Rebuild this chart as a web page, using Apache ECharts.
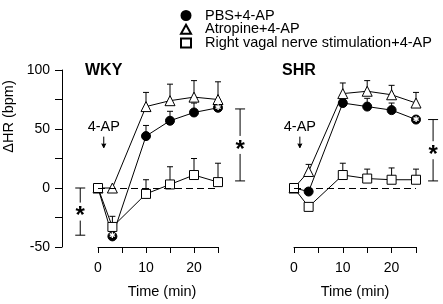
<!DOCTYPE html>
<html>
<head>
<meta charset="utf-8">
<script src="https://cdn.jsdelivr.net/npm/echarts@6/dist/echarts.min.js"></script>
<style>
  html, body { margin: 0; padding: 0; background: #fff; }
  #box { width: 443px; height: 304px; }
</style>
</head>
<body>
<div id="box"></div>
<script>
// time points (min)
const times = [0, 3, 10, 15, 20, 25];
const groupNames = ['PBS+4-AP', 'Atropine+4-AP', 'Right vagal nerve stimulation+4-AP'];
const panelNames = ['WKY', 'SHR'];

// WKY, mean and upper SEM
const wkyPbs = [0, -41, 44, 57, 64, 68];
const wkyPbsErr = [0, 0, 9, 8, 8, 0];
const wkyAtropine = [0, 0, 69, 74, 77, 75];
const wkyAtropineErr = [0, 0, 12, 14, 14, 15];
const wkyVagal = [0, -33, -5, 3, 11, 5];
const wkyVagalErr = [0, 9, 12, 15, 14, 16];

// SHR
const shrPbs = [0, -3, 72, 69, 66, 58];
const shrPbsErr = [0, 0, 0, 7, 6, 0];
const shrAtropine = [0, 14, 80, 82, 79, 72];
const shrAtropineErr = [0, 6, 9, 9, 8, 9];
const shrVagal = [0, -16, 11, 8, 7, 7];
const shrVagalErr = [0, 0, 10, 8, 10, 9];

// points marked with a white star (index into times)
const wkyStars = [1, 5];
const shrStars = [5];

// significance brackets: [x, low, high]
const wkyBrackets = [[-3.7, -40, 0], [29.6, 6, 67]];
const shrBrackets = [[28.5, 6, 58]];

// 4-AP injection marker: [time, label value]
const injection = [1.2, 52];
const injectionText = '4-AP';

const yLabels = [-50, 0, 50, 100];
const xLabels = [0, 10, 20];

const FONT = 'Liberation Sans';
const chart = echarts.init(document.getElementById('box'));

function lineSeries(idx, name, values, stars, symbol, size, fill) {
  return {
    name: name,
    type: 'line',
    xAxisIndex: idx,
    yAxisIndex: idx,
    data: values.map((v, i) => {
      const item = { value: [times[i], v] };
      if (stars.indexOf(i) >= 0) {
        item.label = {
          show: true, position: 'inside', formatter: '\u2731',
          color: '#fff', fontSize: 8, fontFamily: 'DejaVu Sans'
        };
      }
      return item;
    }),
    symbol: symbol,
    symbolSize: size,
    showSymbol: true,
    clip: false,
    lineStyle: { color: '#000', width: 1 },
    itemStyle: { color: fill, borderColor: '#000', borderWidth: 1 },
    emphasis: { disabled: true },
    z: 3
  };
}

function errSeries(idx, values, errs) {
  return {
    type: 'custom',
    xAxisIndex: idx,
    yAxisIndex: idx,
    clip: false,
    silent: true,
    z: 1,
    data: values.map((v, i) => [times[i], v, errs[i]]),
    renderItem: function (params, api) {
      const e = api.value(2);
      if (!e) return null;
      const p0 = api.coord([api.value(0), api.value(1)]);
      const p1 = api.coord([api.value(0), api.value(1) + e]);
      return {
        type: 'group',
        children: [
          { type: 'line', shape: { x1: p0[0], y1: p0[1], x2: p1[0], y2: p1[1] }, style: { stroke: '#000', lineWidth: 1 } },
          { type: 'line', shape: { x1: p1[0] - 3, y1: p1[1], x2: p1[0] + 3, y2: p1[1] }, style: { stroke: '#000', lineWidth: 1 } }
        ]
      };
    }
  };
}

function bracketSeries(idx, list) {
  return {
    type: 'custom',
    xAxisIndex: idx,
    yAxisIndex: idx,
    clip: false,
    silent: true,
    data: list,
    renderItem: function (params, api) {
      const top = api.coord([api.value(0), api.value(2)]);
      const bot = api.coord([api.value(0), api.value(1)]);
      const x = top[0], mid = (top[1] + bot[1]) / 2;
      const st = { stroke: '#000', lineWidth: 1 };
      return {
        type: 'group',
        children: [
          { type: 'line', shape: { x1: x, y1: top[1], x2: x, y2: mid - 9 }, style: st },
          { type: 'line', shape: { x1: x, y1: mid + 9, x2: x, y2: bot[1] }, style: st },
          { type: 'line', shape: { x1: x - 5, y1: top[1], x2: x + 5, y2: top[1] }, style: st },
          { type: 'line', shape: { x1: x - 5, y1: bot[1], x2: x + 5, y2: bot[1] }, style: st },
          { type: 'text', x: x, y: mid + 5, style: { text: '*', fill: '#000', font: 'bold 24px ' + FONT, align: 'center', verticalAlign: 'middle' } }
        ]
      };
    }
  };
}

function injectionSeries(idx) {
  return {
    type: 'custom',
    xAxisIndex: idx,
    yAxisIndex: idx,
    clip: false,
    silent: true,
    data: [injection],
    renderItem: function (params, api) {
      const p = api.coord([api.value(0), api.value(1)]);
      const st = { stroke: '#000', lineWidth: 1 };
      const y0 = p[1] + 10, y1 = p[1] + 21;
      return {
        type: 'group',
        children: [
          { type: 'text', x: p[0], y: p[1], style: { text: injectionText, fill: '#000', font: '14.5px ' + FONT, align: 'center', verticalAlign: 'middle' } },
          { type: 'line', shape: { x1: p[0], y1: y0, x2: p[0], y2: y1 }, style: st },
          { type: 'polyline', shape: { points: [[p[0] - 2, y1 - 4], [p[0], y1], [p[0] + 2, y1 - 4]] }, style: st }
        ]
      };
    }
  };
}

function xAxis(idx) {
  return {
    type: 'value', gridIndex: idx, min: 0, max: 25, interval: 5,
    name: 'Time (min)', nameLocation: 'middle', nameGap: 37,
    nameTextStyle: { color: '#000', fontSize: 14.5, fontFamily: FONT, padding: idx === 0 ? [0, 0, 0, 8] : 0 },
    axisLine: { onZero: false, lineStyle: { color: '#000', width: 1 } },
    axisTick: { length: 6, lineStyle: { color: '#000' } },
    splitLine: { show: false },
    axisLabel: {
      color: '#000', fontSize: 14, fontFamily: FONT, margin: 14,
      formatter: v => (xLabels.indexOf(v) >= 0 ? String(v) : '')
    }
  };
}

function yAxis(idx) {
  return {
    type: 'value', gridIndex: idx, min: -50, max: 100, interval: 25,
    show: idx === 0,
    offset: 36,
    name: '\u0394HR (bpm)', nameLocation: 'middle', nameGap: 46,
    nameTextStyle: { color: '#000', fontSize: 14.5, fontFamily: FONT, padding: [0, 0, 0, 84] },
    axisLine: { show: true, onZero: false, lineStyle: { color: '#000', width: 1 } },
    axisTick: { show: true, length: 7, lineStyle: { color: '#000' } },
    splitLine: { show: false },
    axisLabel: {
      color: '#000', fontSize: 14, fontFamily: FONT, margin: 12,
      formatter: v => (yLabels.indexOf(v) >= 0 ? String(v) : '')
    }
  };
}

const zeroLine = {
  silent: true, symbol: 'none', label: { show: false },
  lineStyle: { type: [7, 4], color: '#000', width: 1 },
  data: [{ yAxis: 0 }]
};

const wkyFirst = lineSeries(0, groupNames[2], wkyVagal, [], 'rect', 9, '#fff');
wkyFirst.markLine = zeroLine;
const shrFirst = lineSeries(1, groupNames[2], shrVagal, [], 'rect', 9, '#fff');
shrFirst.markLine = zeroLine;

const option = {
  animation: false,
  backgroundColor: '#fff',
  textStyle: { fontFamily: FONT },
  title: [
    { text: panelNames[0], left: 85, top: 63, padding: 0, textStyle: { fontSize: 16, fontWeight: 'bold', color: '#000', fontFamily: FONT } },
    { text: panelNames[1], left: 282, top: 63, padding: 0, textStyle: { fontSize: 16, fontWeight: 'bold', color: '#000', fontFamily: FONT } }
  ],
  legend: {
    orient: 'vertical', left: 175, top: 3,
    itemWidth: 10, itemHeight: 9, itemGap: -1.3,
    selectedMode: false,
    textStyle: { color: '#000', fontSize: 14.5, fontFamily: FONT, lineHeight: 14.5, padding: [0, 0, 0, 9] },
    data: [
      { name: groupNames[0], icon: 'circle' },
      { name: groupNames[1], icon: 'triangle' },
      { name: groupNames[2], icon: 'rect' }
    ]
  },
  grid: [
    { left: 97, top: 70, width: 121, height: 179 },
    { left: 294, top: 70, width: 122, height: 179 }
  ],
  xAxis: [xAxis(0), xAxis(1)],
  yAxis: [yAxis(0), yAxis(1)],
  series: [
    errSeries(0, wkyPbs, wkyPbsErr),
    errSeries(0, wkyAtropine, wkyAtropineErr),
    errSeries(0, wkyVagal, wkyVagalErr),
    errSeries(1, shrPbs, shrPbsErr),
    errSeries(1, shrAtropine, shrAtropineErr),
    errSeries(1, shrVagal, shrVagalErr),
    lineSeries(0, groupNames[0], wkyPbs, wkyStars, 'circle', 9, '#000'),
    lineSeries(0, groupNames[1], wkyAtropine, [], 'triangle', 10, '#fff'),
    wkyFirst,
    lineSeries(1, groupNames[0], shrPbs, shrStars, 'circle', 9, '#000'),
    lineSeries(1, groupNames[1], shrAtropine, [], 'triangle', 10, '#fff'),
    shrFirst,
    bracketSeries(0, wkyBrackets),
    bracketSeries(1, shrBrackets),
    injectionSeries(0),
    injectionSeries(1)
  ]
};

chart.setOption(option);
</script>
</body>
</html>
